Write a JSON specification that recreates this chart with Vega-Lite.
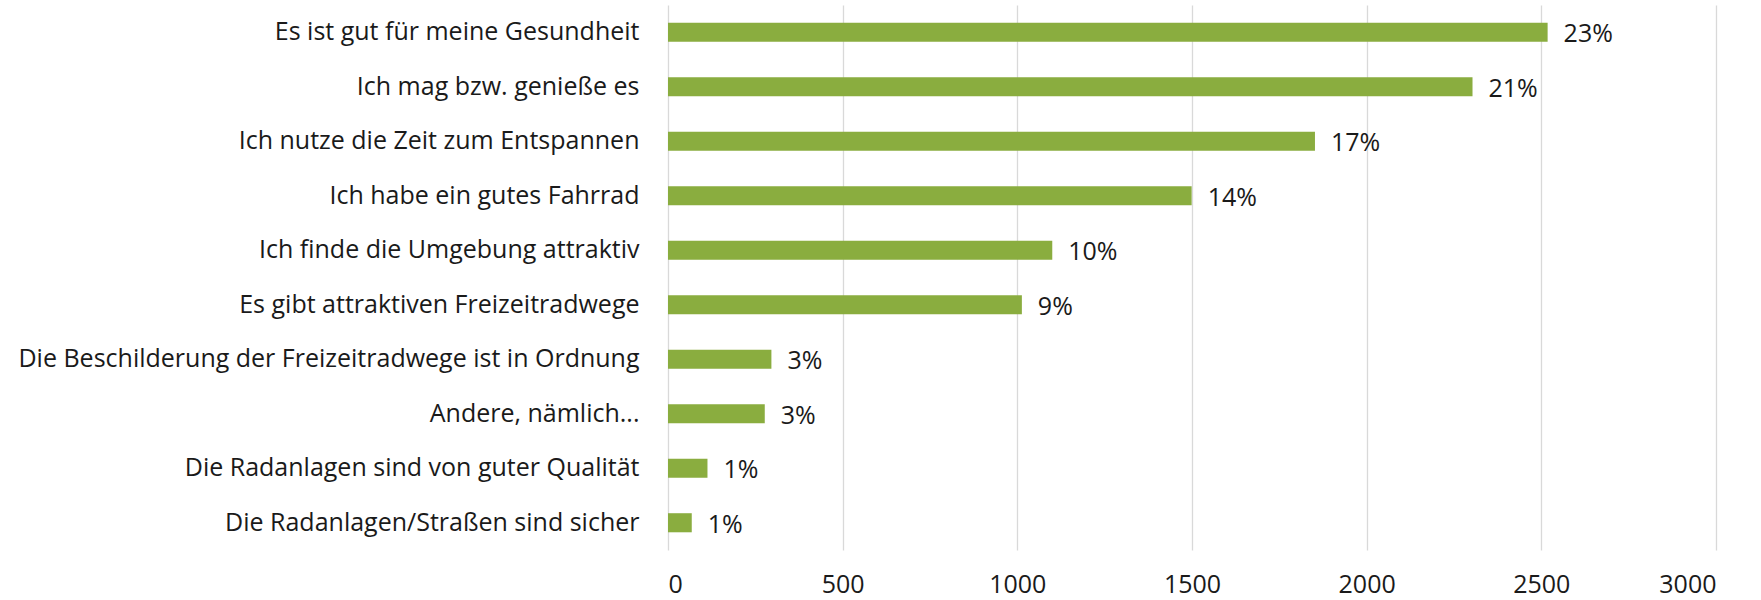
{
  "$schema": "https://vega.github.io/schema/vega-lite/v6.json",
  "width": 1048,
  "height": 545,
  "autosize": {"type": "none"},
  "padding": {"left": 668, "top": 5, "right": 45, "bottom": 50},
  "background": "white",
  "config": {"view": {"stroke": null}, "font": "Open Sans"},
  "data": {"values": [
    {"reason": "Es ist gut für meine Gesundheit", "count": 2518, "pct": "23%"},
    {"reason": "Ich mag bzw. genieße es", "count": 2303, "pct": "21%"},
    {"reason": "Ich nutze die Zeit zum Entspannen", "count": 1852, "pct": "17%"},
    {"reason": "Ich habe ein gutes Fahrrad", "count": 1499, "pct": "14%"},
    {"reason": "Ich finde die Umgebung attraktiv", "count": 1100, "pct": "10%"},
    {"reason": "Es gibt attraktiven Freizeitradwege", "count": 1013, "pct": "9%"},
    {"reason": "Die Beschilderung der Freizeitradwege ist in Ordnung", "count": 296, "pct": "3%"},
    {"reason": "Andere, nämlich...", "count": 277, "pct": "3%"},
    {"reason": "Die Radanlagen sind von guter Qualität", "count": 113, "pct": "1%"},
    {"reason": "Die Radanlagen/Straßen sind sicher", "count": 68, "pct": "1%"}
  ]},
  "encoding": {
    "y": {"field": "reason", "type": "nominal", "sort": null,
      "scale": {"paddingInner": 0.65, "paddingOuter": 0.325},
      "axis": {"title": null, "domain": false, "ticks": false, "labelPadding": 29,
        "labelFontSize": 25, "labelColor": "#1a1a1a", "labelFont": "Open Sans", "labelLimit": 700}},
    "x": {"field": "count", "type": "quantitative",
      "scale": {"domain": [0, 3000], "nice": false},
      "axis": {"title": null, "domain": false, "ticks": false, "values": [0, 500, 1000, 1500, 2000, 2500, 3000],
        "format": "d", "grid": true, "gridColor": "#d9d9d9", "gridWidth": 1.3,
        "labelFontSize": 25, "labelColor": "#1a1a1a", "labelBaseline": "alphabetic", "labelPadding": 42, "labelFont": "Open Sans"}}
  },
  "layer": [
    {"mark": {"type": "bar", "color": "#8aad3f"}},
    {"mark": {"type": "text", "align": "left", "baseline": "middle", "dx": 16, "dy": 2, "fontSize": 25, "color": "#1a1a1a", "font": "Open Sans"},
     "encoding": {"text": {"field": "pct"}}}
  ]
}
